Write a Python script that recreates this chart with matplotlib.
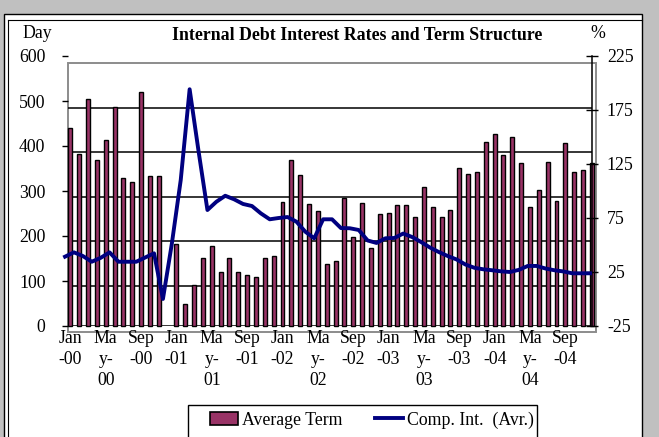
import numpy as np
import matplotlib
matplotlib.use("Agg")
import matplotlib.pyplot as plt
from matplotlib.patches import Rectangle, Patch
from matplotlib.lines import Line2D

# Monthly series, Jan-2000 .. Dec-2004
avg_term_days = [441, 383, 504, 369, 413, 486, 330, 321, 521, 334, 334, np.nan,
                 182, 48, 91, 152, 178, 120, 152, 120, 113, 110, 152, 155,
                 276, 369, 335, 272, 256, 138, 144, 284, 197, 273, 173, 248,
                 252, 268, 268, 242, 310, 264, 242, 258, 352, 338, 342, 410,
                 427, 380, 421, 362, 265, 303, 364, 278, 407, 342, 347, 362]

comp_int_pct = [39.2, 43.2, 39.8, 34.5, 38.1, 43.2, 34.5, 34.5, 34.5, 38.4, 42.3, 0.0,
                51.2, 110.2, 194.2, 137.0, 82.4, 90.0, 95.6, 92.3, 88.0, 86.1, 79.3, 73.8,
                75.0, 75.9, 71.6, 62.3, 56.2, 73.8, 73.8, 65.7, 65.5, 63.9, 54.2, 51.9,
                56.2, 56.5, 60.6, 57.4, 52.8, 47.7, 43.5, 39.8, 36.6, 31.9, 28.9, 27.5,
                26.6, 25.6, 25.0, 27.0, 30.6, 30.6, 28.2, 26.6, 25.5, 23.8, 23.8, 23.8]

x_tick_labels = ["Jan\n-00", "Ma\ny-\n00", "Sep\n-00",
                 "Jan\n-01", "Ma\ny-\n01", "Sep\n-01",
                 "Jan\n-02", "Ma\ny-\n02", "Sep\n-02",
                 "Jan\n-03", "Ma\ny-\n03", "Sep\n-03",
                 "Jan\n-04", "Ma\ny-\n04", "Sep\n-04"]

left_ticks = [0, 100, 200, 300, 400, 500, 600]
right_ticks = [-25, 25, 75, 125, 175, 225]

BAR_COLOR = "#993366"
LINE_COLOR = "#000080"
SERIF = ["Liberation Serif", "DejaVu Serif"]
FS = 12.8

W, H = 659, 437
fig = plt.figure(figsize=(W / 100, H / 100), dpi=100, facecolor="#c0c0c0")


def fx(px):
    return px / W


def fy(py):
    return 1 - py / H


# page frame
fig.patches.append(Rectangle((fx(4), fy(440)), fx(642) - fx(4), fy(14) - fy(440),
                             transform=fig.transFigure, facecolor="white",
                             edgecolor="black", lw=1.0, zorder=-5))
fig.lines.append(Line2D([fx(8), fx(8)], [fy(20), fy(440)], transform=fig.transFigure,
                        color="black", lw=0.8, zorder=-4))
fig.lines.append(Line2D([fx(8), fx(642)], [fy(20), fy(20)], transform=fig.transFigure,
                        color="black", lw=0.8, zorder=-4))

# plot area frame
fig.patches.append(Rectangle((fx(67.7), fy(331.5)), fx(595.5) - fx(67.7), fy(62.7) - fy(331.5),
                             transform=fig.transFigure, facecolor="none",
                             edgecolor="#8c8c8c", lw=1.4, zorder=-3))

ax = fig.add_axes([fx(67.7), fy(326), fx(592.3) - fx(67.7), fy(56) - fy(326)])
ax.set_facecolor("none")
n = len(avg_term_days)
idx = np.arange(n)

# horizontal rules
for lvl in np.arange(89, 490, 99):
    ax.axhline(lvl, color="black", lw=1.1, zorder=1)
ax.axhline(0, color="black", lw=1.1, zorder=1)

ax.bar(idx, avg_term_days, width=0.45, color=BAR_COLOR, edgecolor="black",
       linewidth=1.0, zorder=2, clip_on=False)
ax.set_xlim(-0.3, 59.05)
ax.set_ylim(0, 600)
ax.set_yticks(left_ticks)
ax.set_yticklabels([str(v) for v in left_ticks], fontfamily=SERIF, fontsize=FS)
ax.tick_params(axis="y", direction="out", length=4, width=1, pad=12)
ax.set_xticks(idx[::4])
ax.set_xticklabels(x_tick_labels, fontfamily=SERIF, fontsize=FS, linespacing=1.32,
                   va="top")
ax.tick_params(axis="x", length=0, pad=3)
for s in ["top", "left", "right", "bottom"]:
    ax.spines[s].set_visible(False)

ax2 = ax.twinx()
ax2.set_ylim(-25, 225)
ax2.plot(np.linspace(-0.6, 58.8, n), comp_int_pct, color=LINE_COLOR, lw=2.8,
         solid_joinstyle="round", zorder=3, clip_on=False)
ax2.set_yticks(right_ticks)
ax2.set_yticklabels([str(v) for v in right_ticks], fontfamily=SERIF, fontsize=FS)
ax2.tick_params(axis="y", direction="inout", length=9, width=1, pad=6)
for s in ["top", "left", "bottom"]:
    ax2.spines[s].set_visible(False)
ax2.spines["right"].set_linewidth(1.1)

# headings
fig.text(fx(22), fy(34), "Day", fontfamily=SERIF, fontsize=FS, va="center", ha="left")
fig.text(fx(357.5), fy(35), "Internal Debt Interest Rates and Term Structure",
         fontfamily=SERIF, fontsize=12.8, fontweight="bold", va="center", ha="center")
fig.text(fx(598), fy(34), "%", fontfamily=SERIF, fontsize=FS, va="center", ha="center")

# legend
fig.patches.append(Rectangle((fx(188), fy(445)), fx(537) - fx(188), fy(405) - fy(445),
                             transform=fig.transFigure, facecolor="white",
                             edgecolor="black", lw=1.0, zorder=4))
handles = [Patch(facecolor=BAR_COLOR, edgecolor="black", linewidth=1.2),
           Line2D([], [], color=LINE_COLOR, lw=2.8)]
leg = fig.legend(handles, ["Average Term", "Comp. Int.  (Avr.)"], ncol=2,
                 loc="center left", bbox_to_anchor=(fx(210), fy(420)),
                 frameon=False, prop={"family": SERIF, "size": FS},
                 handlelength=1.57, handleheight=0.7, handletextpad=0.22,
                 columnspacing=1.85, borderpad=0, borderaxespad=0)
leg.set_zorder(5)

fig.savefig("out.png", dpi=100, facecolor=fig.get_facecolor())
